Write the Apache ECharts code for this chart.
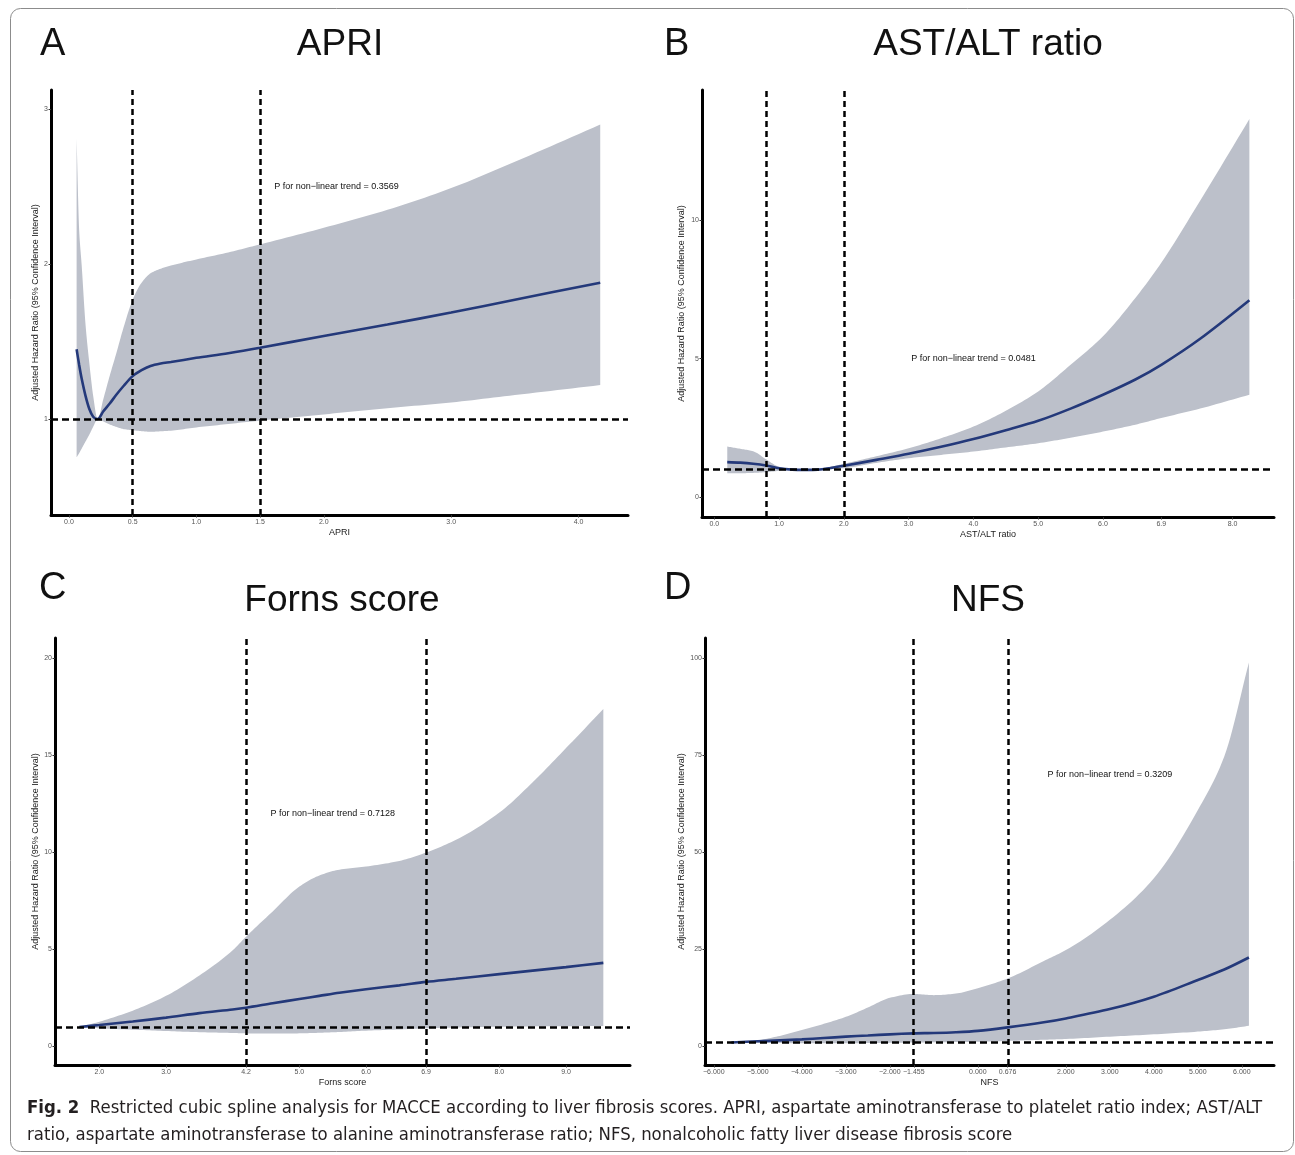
<!DOCTYPE html>
<html>
<head>
<meta charset="utf-8">
<script src="https://cdn.jsdelivr.net/npm/echarts@6/dist/echarts.min.js"></script>
<style>
html,body{margin:0;padding:0;background:#fff;}
#chart{width:1295px;height:1155px;}
</style>
</head>
<body>
<div id="chart"></div>
<script>
// ---------- Panel A: APRI ----------
const aX   = [0.06, 0.08, 0.10, 0.13, 0.16, 0.19, 0.225, 0.27, 0.32, 0.37, 0.43, 0.5, 0.57, 0.64, 0.72, 0.8, 1.0, 1.25, 1.5, 2.0, 2.5, 3.0, 3.5, 4.17];
const aMid = [1.45, 1.35, 1.26, 1.15, 1.065, 1.015, 1.0, 1.05, 1.10, 1.155, 1.215, 1.277, 1.315, 1.342, 1.358, 1.368, 1.395, 1.425, 1.46, 1.536, 1.61, 1.687, 1.77, 1.88];
const aHi  = [2.81, 2.22, 1.99, 1.61, 1.36, 1.15, 1.0, 1.13, 1.28, 1.42, 1.595, 1.77, 1.88, 1.94, 1.97, 1.99, 2.03, 2.075, 2.127, 2.234, 2.35, 2.49, 2.66, 2.90];
const aLo  = [0.753, 0.78, 0.81, 0.855, 0.90, 0.95, 1.0, 0.985, 0.965, 0.95, 0.935, 0.928, 0.922, 0.918, 0.921, 0.925, 0.946, 0.968, 0.99, 1.03, 1.07, 1.107, 1.155, 1.219];
const aXTicks = [0, 0.5, 1, 1.5, 2, 3, 4];
const aXLabels = ['0.0', '0.5', '1.0', '1.5', '2.0', '3.0', '4.0'];
const aYTicks = [1, 2, 3];
const aYLabels = ['1', '2', '3'];
const aCuts = [0.5, 1.5];
const aP = 'P for non\u2212linear trend = 0.3569';

// ---------- Panel B: AST/ALT ratio ----------
const bX   = [0.2, 0.4, 0.6, 0.8, 1.0, 1.2, 1.4, 1.6, 1.8, 2.0, 2.5, 3.0, 3.5, 4.0, 4.5, 5.0, 5.5, 6.0, 6.5, 6.9, 7.5, 8.26];
const bMid = [1.27, 1.25, 1.21, 1.146, 1.05, 1.0, 0.99, 1.0, 1.06, 1.135, 1.35, 1.57, 1.82, 2.10, 2.42, 2.76, 3.2, 3.70, 4.25, 4.78, 5.72, 7.11];
const bHi  = [1.83, 1.75, 1.66, 1.37, 1.10, 1.02, 1.01, 1.03, 1.11, 1.21, 1.48, 1.77, 2.13, 2.55, 3.12, 3.82, 4.78, 5.81, 7.19, 8.46, 10.7, 13.64];
const bLo  = [0.87, 0.87, 0.88, 0.91, 0.95, 0.97, 0.975, 0.99, 1.02, 1.05, 1.24, 1.41, 1.53, 1.65, 1.80, 1.95, 2.15, 2.37, 2.62, 2.86, 3.2, 3.7];
const bXTicks = [0, 1, 2, 3, 4, 5, 6, 6.9, 8];
const bXLabels = ['0.0', '1.0', '2.0', '3.0', '4.0', '5.0', '6.0', '6.9', '8.0'];
const bYTicks = [0, 5, 10];
const bYLabels = ['0', '5', '10'];
const bCuts = [0.8, 2.0];
const bP = 'P for non\u2212linear trend = 0.0481';

// ---------- Panel C: Forns score ----------
const cX   = [1.7, 2.0, 2.5, 3.0, 3.5, 4.0, 4.2, 4.6, 5.0, 5.3, 5.6, 6.0, 6.5, 6.9, 7.35, 8.0, 8.5, 9.0, 9.56];
const cMid = [1.0, 1.1, 1.28, 1.48, 1.71, 1.9, 1.99, 2.22, 2.44, 2.6, 2.76, 2.94, 3.14, 3.32, 3.48, 3.72, 3.9, 4.08, 4.3];
const cHi  = [1.0, 1.27, 1.84, 2.6, 3.65, 4.95, 5.65, 6.95, 8.23, 8.8, 9.1, 9.26, 9.55, 9.98, 10.64, 12.04, 13.6, 15.36, 17.37];
const cLo  = [1.0, 0.93, 0.86, 0.79, 0.73, 0.69, 0.67, 0.66, 0.67, 0.7, 0.74, 0.81, 0.87, 0.93, 0.97, 1.01, 1.03, 1.04, 1.05];
const cXTicks = [2, 3, 4.2, 5, 6, 6.9, 8, 9];
const cXLabels = ['2.0', '3.0', '4.2', '5.0', '6.0', '6.9', '8.0', '9.0'];
const cYTicks = [0, 5, 10, 15, 20];
const cYLabels = ['0', '5', '10', '15', '20'];
const cCuts = [4.2, 6.9];
const cP = 'P for non\u2212linear trend = 0.7128';

// ---------- Panel D: NFS ----------
const dX   = [-5.6, -5.0, -4.5, -4.0, -3.5, -3.0, -2.5, -2.0, -1.455, -1.0, -0.5, 0.0, 0.676, 1.5, 2.0, 3.0, 4.0, 5.0, 5.6, 6.16];
const dMid = [1.0, 1.3, 1.55, 1.8, 2.15, 2.5, 2.8, 3.1, 3.35, 3.45, 3.65, 4.0, 4.9, 6.2, 7.2, 9.6, 12.8, 17.1, 19.8, 22.9];
const dHi  = [1.0, 1.6, 2.7, 4.2, 5.8, 7.6, 10.0, 12.5, 13.5, 13.2, 13.6, 15.0, 17.5, 22.0, 24.8, 32.6, 43.3, 60.9, 74.7, 98.9];
const dLo  = [1.0, 0.9, 0.85, 0.8, 0.78, 0.8, 0.85, 0.9, 1.0, 1.05, 1.1, 1.2, 1.4, 1.7, 1.9, 2.5, 3.1, 3.8, 4.4, 5.3];
const dXTicks = [-6, -5, -4, -3, -2, -1.455, 0, 0.676, 2, 3, 4, 5, 6];
const dXLabels = ['\u22126.000', '\u22125.000', '\u22124.000', '\u22123.000', '\u22122.000', '\u22121.455', '0.000', '0.676', '2.000', '3.000', '4.000', '5.000', '6.000'];
const dYTicks = [0, 25, 50, 75, 100];
const dYLabels = ['0', '25', '50', '75', '100'];
const dCuts = [-1.455, 0.676];
const dP = 'P for non\u2212linear trend = 0.3209';

const titles = ['APRI', 'AST/ALT ratio', 'Forns score', 'NFS'];
const letters = ['A', 'B', 'C', 'D'];
const yName = 'Adjusted Hazard Ratio (95% Confidence Interval)';
const caption1 = 'Restricted cubic spline analysis for MACCE according to liver fibrosis scores. APRI, aspartate aminotransferase to platelet ratio index; AST/ALT';
const caption2 = 'ratio, aspartate aminotransferase to alanine aminotransferase ratio; NFS, nonalcoholic fatty liver disease fibrosis score';

// ---------- layout (pixels) ----------
const FONT = '"Liberation Sans", Arial, Helvetica, sans-serif';
const BAND = '#bcc0ca';
const LINE = '#24397a';
const SMOOTH = 0.3;

const panels = [
  {x: aX, mid: aMid, hi: aHi, lo: aLo, xt: aXTicks, xl: aXLabels, yt: aYTicks, yl: aYLabels, cuts: aCuts, p: aP, pPos: [2.1, 2.5],
   grid: {left: 51, top: 90, width: 577, height: 425}, xr: [-0.141, 4.388], yr: [0.381, 3.123], yGap: 11},
  {x: bX, mid: bMid, hi: bHi, lo: bLo, xt: bXTicks, xl: bXLabels, yt: bYTicks, yl: bYLabels, cuts: bCuts, p: bP, pPos: [4.0, 5.0],
   grid: {left: 702, top: 90, width: 572, height: 427}, xr: [-0.19, 8.64], yr: [-0.71, 14.69], yGap: 16},
  {x: cX, mid: cMid, hi: cHi, lo: cLo, xt: cXTicks, xl: cXLabels, yt: cYTicks, yl: cYLabels, cuts: cCuts, p: cP, pPos: [5.5, 12],
   grid: {left: 55, top: 638, width: 575, height: 427}, xr: [1.334, 9.96], yr: [-0.96, 21.03], yGap: 15},
  {x: dX, mid: dMid, hi: dHi, lo: dLo, xt: dXTicks, xl: dXLabels, yt: dYTicks, yl: dYLabels, cuts: dCuts, p: dP, pPos: [3.0, 70],
   grid: {left: 705, top: 638, width: 569, height: 427}, xr: [-6.2, 6.73], yr: [-4.8, 105.2], yGap: 19}
];

// monotone cubic (Fritsch-Carlson) rendering of a pixel-space polyline, x increasing
function monotonePath(pts, n) {
  const m = pts.length;
  if (m < 3) return pts.slice();
  const dx = [], s = [];
  for (let k = 0; k < m - 1; k++) {
    dx[k] = pts[k + 1][0] - pts[k][0];
    s[k] = (pts[k + 1][1] - pts[k][1]) / dx[k];
  }
  const t = [s[0]];
  for (let k = 1; k < m - 1; k++) {
    if (s[k - 1] * s[k] <= 0) t[k] = 0;
    else {
      const w1 = 2 * dx[k] + dx[k - 1], w2 = dx[k] + 2 * dx[k - 1];
      t[k] = (w1 + w2) / (w1 / s[k - 1] + w2 / s[k]);
    }
  }
  t[m - 1] = s[m - 2];
  const out = [];
  for (let k = 0; k < m - 1; k++) {
    const h = dx[k], y0 = pts[k][1], y1 = pts[k + 1][1];
    for (let q = 0; q < n; q++) {
      const u = q / n, u2 = u * u, u3 = u2 * u;
      const h00 = 2 * u3 - 3 * u2 + 1, h10 = u3 - 2 * u2 + u, h01 = -2 * u3 + 3 * u2, h11 = u3 - u2;
      out.push([pts[k][0] + u * h, h00 * y0 + h10 * h * t[k] + h01 * y1 + h11 * h * t[k + 1]]);
    }
  }
  out.push(pts[m - 1]);
  return out;
}

const grids = [], xAxes = [], yAxes = [], series = [];
panels.forEach((p, i) => {
  grids.push(Object.assign({containLabel: false}, p.grid));
  const axisLine = {show: true, onZero: false, lineStyle: {color: '#000', width: 3}};
  xAxes.push({
    type: 'value', gridIndex: i, min: p.xr[0], max: p.xr[1], z: 10,
    name: titles[i], nameLocation: 'middle', nameGap: 13,
    nameTextStyle: {fontFamily: FONT, fontSize: 9, color: '#1a1a1a'},
    axisLine: axisLine, splitLine: {show: false},
    axisTick: {show: true, customValues: p.xt, length: 2.5, lineStyle: {color: '#333', width: 1}},
    axisLabel: {show: true, customValues: p.xt, margin: 4, fontFamily: FONT, fontSize: 7, color: '#555',
      formatter: (v) => { const k = p.xt.findIndex(t => Math.abs(t - v) < 1e-6); return k >= 0 ? p.xl[k] : ''; }}
  });
  yAxes.push({
    type: 'value', gridIndex: i, min: p.yr[0], max: p.yr[1], z: 10,
    name: yName, nameLocation: 'middle', nameRotate: 90, nameGap: p.yGap,
    nameTextStyle: {fontFamily: FONT, fontSize: 9, color: '#1a1a1a'},
    axisLine: axisLine, splitLine: {show: false},
    axisTick: {show: true, customValues: p.yt, length: 2.5, lineStyle: {color: '#333', width: 1}},
    axisLabel: {show: true, customValues: p.yt, margin: 3, fontFamily: FONT, fontSize: 7, color: '#555',
      formatter: (v) => { const k = p.yt.findIndex(t => Math.abs(t - v) < 1e-6); return k >= 0 ? p.yl[k] : ''; }}
  });
  // confidence band drawn as one polygon through the axis scales
  series.push({
    type: 'custom', xAxisIndex: i, yAxisIndex: i, silent: true, z: 1, clip: true,
    data: [[p.x[0], p.mid[0]]],
    renderItem: (params, api) => {
      const up = p.x.map((x, j) => api.coord([x, p.hi[j]]));
      const dn = p.x.map((x, j) => api.coord([x, p.lo[j]]));
      const pts = monotonePath(up, 12).concat(monotonePath(dn, 12).reverse());
      return {type: 'polygon', shape: {points: pts}, style: {fill: BAND, stroke: null}};
    }
  });
  series.push({
    type: 'line', xAxisIndex: i, yAxisIndex: i, data: p.x.map((x, j) => [x, p.mid[j]]),
    symbol: 'none', smooth: SMOOTH, silent: true, z: 3,
    lineStyle: {color: LINE, width: 2.6},
    markLine: {
      silent: true, symbol: 'none', label: {show: false}, animation: false,
      lineStyle: {color: '#000', width: 2.5, type: [6, 4]},
      data: [{xAxis: p.cuts[0]}, {xAxis: p.cuts[1]}, {yAxis: 1, lineStyle: {type: [7, 4]}}]
    },
    markPoint: {
      silent: true, symbol: 'circle', symbolSize: 0, animation: false,
      label: {show: true, position: 'inside', formatter: p.p, fontFamily: FONT, fontSize: 9, color: '#111'},
      data: [{coord: p.pPos}]
    }
  });
});

// caption font size fitted to the measured line width of the reference
const CAP_FONT = '"Liberation Sans Narrow", "DejaVu Sans Condensed", "Liberation Sans", sans-serif';
const ctx = document.createElement('canvas').getContext('2d');
ctx.font = '100px ' + CAP_FONT;
const capW = ctx.measureText('Fig. 2  ' + caption1).width;
const capSize = Math.max(12, Math.min(22, 100 * 1228 / capW));

const graphics = [
  {type: 'rect', shape: {x: 10.5, y: 8.5, width: 1283, height: 1143, r: 10}, style: {fill: 'none', stroke: '#8c8c8c', lineWidth: 1}, silent: true, z: -10},
  {type: 'text', x: 40, y: 45, style: {text: letters[0], font: '38px ' + FONT, fill: '#111', textAlign: 'left', textVerticalAlign: 'middle'}},
  {type: 'text', x: 340, y: 45, style: {text: titles[0], font: '37px ' + FONT, fill: '#111', textAlign: 'center', textVerticalAlign: 'middle'}},
  {type: 'text', x: 664, y: 45, style: {text: letters[1], font: '38px ' + FONT, fill: '#111', textAlign: 'left', textVerticalAlign: 'middle'}},
  {type: 'text', x: 988, y: 45, style: {text: titles[1], font: '37px ' + FONT, fill: '#111', textAlign: 'center', textVerticalAlign: 'middle'}},
  {type: 'text', x: 39, y: 589, style: {text: letters[2], font: '38px ' + FONT, fill: '#111', textAlign: 'left', textVerticalAlign: 'middle'}},
  {type: 'text', x: 342, y: 601, style: {text: titles[2], font: '37px ' + FONT, fill: '#111', textAlign: 'center', textVerticalAlign: 'middle'}},
  {type: 'text', x: 664, y: 589, style: {text: letters[3], font: '38px ' + FONT, fill: '#111', textAlign: 'left', textVerticalAlign: 'middle'}},
  {type: 'text', x: 988, y: 601, style: {text: titles[3], font: '37px ' + FONT, fill: '#111', textAlign: 'center', textVerticalAlign: 'middle'}},
  {type: 'text', x: 27, y: 1108, style: {
    text: '{b|Fig. 2}  ' + caption1, fill: '#231f20', font: capSize.toFixed(2) + 'px ' + CAP_FONT,
    textAlign: 'left', textVerticalAlign: 'middle',
    rich: {b: {fontWeight: 'bold', fontSize: capSize, fontFamily: CAP_FONT, fill: '#231f20'}}}},
  {type: 'text', x: 27, y: 1135, style: {
    text: caption2, fill: '#231f20', font: capSize.toFixed(2) + 'px ' + CAP_FONT,
    textAlign: 'left', textVerticalAlign: 'middle'}}
];

const chart = echarts.init(document.getElementById('chart'), null, {renderer: 'canvas', width: 1295, height: 1155});
chart.setOption({
  backgroundColor: '#fff',
  animation: false,
  grid: grids, xAxis: xAxes, yAxis: yAxes, series: series,
  graphic: graphics
});
</script>
</body>
</html>
